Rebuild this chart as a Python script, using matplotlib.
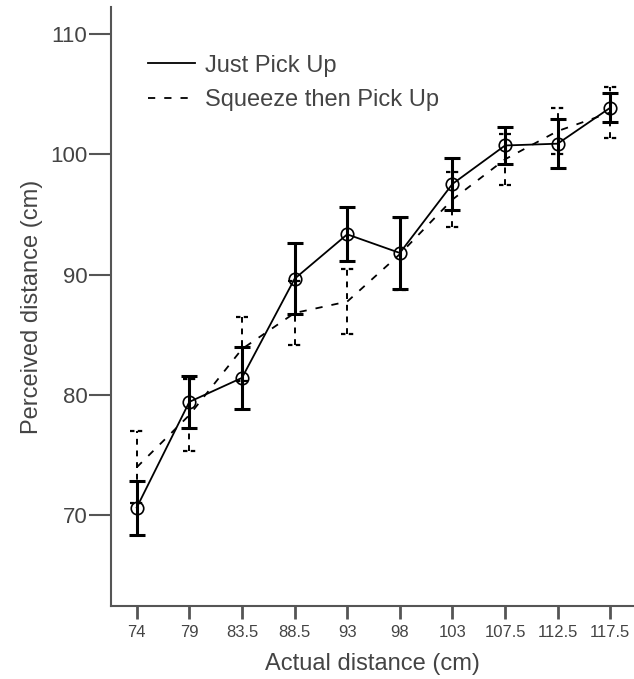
#Perceived vs actual distance, two grasp conditions, mean with error bars

import matplotlib
matplotlib.use("Agg")
import matplotlib.pyplot as plt
import numpy as np

plt.rcParams['font.family'] = ['Liberation Sans', 'DejaVu Sans']

#x categories
distances = ["74", "79", "83.5", "88.5", "93", "98", "103", "107.5", "112.5", "117.5"]

#Just Pick Up: means and half width of error bars
just_mean = [70.6, 79.4, 81.4, 89.65, 93.35, 91.8, 97.55, 100.75, 100.9, 103.9]
just_err = [2.25, 2.15, 2.6, 2.95, 2.25, 3.0, 2.15, 1.55, 2.05, 1.2]

#Squeeze then Pick Up
squeeze_mean = [73.95, 78.3, 83.8, 86.8, 87.75, 91.7, 96.25, 99.6, 101.95, 103.5]
squeeze_err = [3.0, 3.0, 2.7, 2.7, 2.7, 3.0, 2.3, 2.1, 1.9, 2.1]

yticks = [70, 80, 90, 100, 110]

grey = "#444444"
x = np.arange(len(distances))

fig = plt.figure(figsize=(6.34, 6.79), dpi=100)
ax = fig.add_axes([0.175, 0.1075, 0.825, 0.8825])

#dashed series: dashed bars, caps drawn as dashed segments
eb = ax.errorbar(x, squeeze_mean, yerr=squeeze_err, fmt="none", ecolor="black",
                 elinewidth=1.4, capsize=0, zorder=2)
eb[2][0].set_linestyle((0, (3, 3)))
sq_lo = np.array(squeeze_mean) - np.array(squeeze_err)
sq_hi = np.array(squeeze_mean) + np.array(squeeze_err)
ax.hlines(sq_lo, x - 0.12, x + 0.12, colors="black", linewidth=1.6,
          linestyles=(0, (2, 1.5)), zorder=2)
ax.hlines(sq_hi, x - 0.12, x + 0.12, colors="black", linewidth=1.6,
          linestyles=(0, (2, 1.5)), zorder=2)
ax.plot(x, squeeze_mean, color="black", lw=1.3, ls=(0, (4, 5)),
        label="Squeeze then Pick Up", zorder=2)

#solid series
ax.errorbar(x, just_mean, yerr=just_err, fmt="none", ecolor="black",
            elinewidth=2.2, capsize=6, capthick=2.2, zorder=3)
ax.plot(x, just_mean, color="black", lw=1.3, marker="o", ms=9,
        mfc="none", mec="black", mew=1.2, label="Just Pick Up", zorder=4)

ax.set_xlim(-0.49, 9.45)
ax.set_ylim(62.4, 112.3)
ax.set_xticks(x)
ax.set_xticklabels(distances, fontsize=12, color=grey)
ax.set_yticks(yticks)
ax.set_yticklabels([str(t) for t in yticks], fontsize=16, color=grey)

for side in ["top", "right"]:
    ax.spines[side].set_visible(False)
for side in ["left", "bottom"]:
    ax.spines[side].set_color("#555555")
    ax.spines[side].set_linewidth(1.5)

ax.tick_params(axis="y", length=16, width=1.5, color="#555555", pad=1)
ax.tick_params(axis="x", length=9, width=2, color="#555555", pad=5)

ax.set_xlabel("Actual distance (cm)", fontsize=17, color=grey, labelpad=9)
ax.set_ylabel("Perceived distance (cm)", fontsize=17, color=grey, labelpad=5)

handles, labels = ax.get_legend_handles_labels()
leg = ax.legend(handles[::-1], labels[::-1], loc="upper left",
                bbox_to_anchor=(0.07, 0.92), frameon=False, fontsize=17,
                handlelength=2.0, handletextpad=0.45, borderpad=0,
                borderaxespad=0, labelspacing=0.52)
for t in leg.get_texts():
    t.set_color(grey)
#legend handles without markers
for h in leg.legend_handles:
    h.set_marker("")

plt.savefig("out.png", dpi=100)
